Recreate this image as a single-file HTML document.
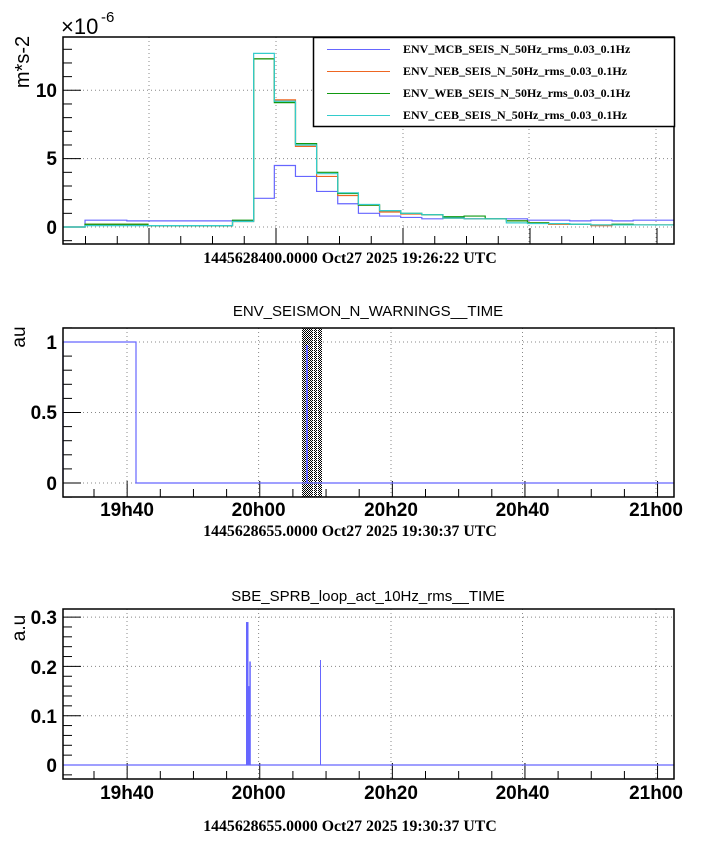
<!DOCTYPE html>
<html><head><meta charset="utf-8"><style>
body{margin:0;background:#fff}
svg{display:block}
.t{font-family:"Liberation Sans",sans-serif;font-weight:bold;font-size:19px}
.d{font-family:"Liberation Serif",serif;font-weight:bold;font-size:15.8px}
.ti{font-family:"Liberation Sans",sans-serif;font-size:15px}
.lg{font-family:"Liberation Serif",serif;font-weight:bold;font-size:12px}
</style></head><body>
<svg id="s" width="704" height="846" xmlns="http://www.w3.org/2000/svg">
<defs><pattern id="h" width="2" height="2" patternUnits="userSpaceOnUse"><rect width="1" height="1" fill="#000"/><rect x="1" y="1" width="1" height="1" fill="#000"/></pattern></defs>
<g id="g"></g>
<text x="61" y="34" style="font-family:'Liberation Sans',sans-serif;font-size:22px">×10</text>
<text x="101" y="22" style="font-family:'Liberation Sans',sans-serif;font-size:15px">-6</text>
<text transform="translate(29,62) rotate(-90)" class="ti" style="font-size:20px" text-anchor="middle">m*s-2</text>
<text x="57" y="97" class="t" text-anchor="end">10</text>
<text x="57" y="165" class="t" text-anchor="end">5</text>
<text x="57" y="234" class="t" text-anchor="end">0</text>
<text x="350" y="263" class="d" text-anchor="middle">1445628400.0000 Oct27 2025 19:26:22 UTC</text>
<rect x="313.5" y="37.5" width="361" height="89" fill="#fff" stroke="#000" stroke-width="1.5"/>
<line x1="327" y1="49.5" x2="390" y2="49.5" stroke="#6666ff"/>
<line x1="327" y1="71.5" x2="390" y2="71.5" stroke="#ee6622"/>
<line x1="327" y1="93.5" x2="390" y2="93.5" stroke="#119911"/>
<line x1="327" y1="115.5" x2="390" y2="115.5" stroke="#33cccc"/>
<text x="403" y="53" class="lg">ENV_MCB_SEIS_N_50Hz_rms_0.03_0.1Hz</text>
<text x="403" y="75" class="lg">ENV_NEB_SEIS_N_50Hz_rms_0.03_0.1Hz</text>
<text x="403" y="97" class="lg">ENV_WEB_SEIS_N_50Hz_rms_0.03_0.1Hz</text>
<text x="403" y="119" class="lg">ENV_CEB_SEIS_N_50Hz_rms_0.03_0.1Hz</text>
<text x="368" y="316" class="ti" text-anchor="middle">ENV_SEISMON_N_WARNINGS__TIME</text>
<text transform="translate(25,337) rotate(-90)" class="ti" style="font-size:19px" text-anchor="middle">au</text>
<text x="57" y="349" class="t" text-anchor="end">1</text>
<text x="57" y="419" class="t" text-anchor="end">0.5</text>
<text x="57" y="490" class="t" text-anchor="end">0</text>
<text x="350" y="536" class="d" text-anchor="middle">1445628655.0000 Oct27 2025 19:30:37 UTC</text>
<text x="368" y="601" class="ti" text-anchor="middle">SBE_SPRB_loop_act_10Hz_rms__TIME</text>
<text transform="translate(25,628) rotate(-90)" class="ti" style="font-size:19px" text-anchor="middle">a.u</text>
<text x="57" y="624" class="t" text-anchor="end">0.3</text>
<text x="57" y="674" class="t" text-anchor="end">0.2</text>
<text x="57" y="723" class="t" text-anchor="end">0.1</text>
<text x="57" y="772" class="t" text-anchor="end">0</text>
<text x="350" y="831" class="d" text-anchor="middle">1445628655.0000 Oct27 2025 19:30:37 UTC</text>
</svg>
<script>
var g=document.getElementById('g'),o='';
function L(a,b,c,d,s,w,da){o+='<line x1="'+a+'" y1="'+b+'" x2="'+c+'" y2="'+d+'" stroke="'+s+'" stroke-width="'+(w||1)+'"'+(da?' stroke-dasharray="'+da+'"':'')+'/>';}
function P(d,s){o+='<path d="'+d+'" fill="none" stroke="'+s+'" stroke-width="1.2"/>';}
var X0=63,X1=674;
var T1=37,B1=244;
function Y1(v){return 227-v*13.67}
[149,276,403,529,656].forEach(function(x){L(x,T1,x,B1,'#888',1,'1,3')});
[0,5,10].forEach(function(v){L(X0,Y1(v),X1,Y1(v),'#888',1,'1,3')});
for(var v=-1;v<=13;v++){L(X0,Y1(v),X0+(v%5==0?18:9),Y1(v),'#000');}
for(var x=149-127;x<X1;x+=127/4){if(x>X0){var mj=Math.abs((x-149)%127)<1;L(x,B1,x,B1-(mj?16:8),'#000')}}
function ZX(z){return 63+(z-141)/2.224}
var e=[190,237,283,330,377,424,471,518,565,611,658,705,752,798,845,892,939,986,1033,1080,1127,1174,1221,1268,1315,1362,1409,1456,1500];
function hist(vals,col){var d='M'+X0+','+Y1(0)+' H'+ZX(190);for(var i=0;i<vals.length;i++){d+=' V'+Y1(vals[i])+' H'+ZX(e[i+1]);}P(d,col);}
var blue=[.5,.5,.45,.45,.45,.45,.45,.45,2.1,4.5,3.7,2.6,1.7,1.0,.8,.7,.6,.7,.6,.6,.6,.5,.5,.45,.5,.45,.5,.5];
var ora=[.2,.2,.2,.1,.1,.1,.1,.4,12.3,9.3,5.9,3.7,2.3,1.6,1.1,.95,.9,.65,.6,.6,.45,.3,.2,.2,.1,.15,.15,.15];
var grn=[.2,.2,.2,.1,.1,.1,.1,.5,12.3,9.1,6.1,4.0,2.45,1.6,1.2,1.0,.9,.75,.8,.6,.45,.3,.25,.2,.15,.2,.15,.15];
var cy=[.1,.1,.1,.1,.1,.1,.1,.4,12.7,9.2,6.0,3.9,2.5,1.65,1.2,1.0,.9,.65,.6,.6,.3,.25,.25,.2,.15,.15,.15,.15];
hist(blue,'#6666ff');hist(ora,'#ee6622');hist(grn,'#119911');hist(cy,'#33cccc');
o+='<rect x="63" y="37" width="611" height="207" fill="none" stroke="#000" stroke-width="1.5"/>';
function taxis(T,B,dy){[127,258.6,391,522.5,656].forEach(function(x){L(x,T,x,B,'#888',1,'1,3')});
for(var x=94;x<X1;x+=33.15){var mj=Math.abs((x-127)%132.6)<2||Math.abs((x-127)%132.6-132.6)<2;L(x,B,x,B-(mj?16:8),'#000')}
var lb=['19h40','20h00','20h20','20h40','21h00'];[127,258.6,391,522.5,656].forEach(function(x,i){o+='<text x="'+x+'" y="'+(B+dy)+'" class="t" text-anchor="middle">'+lb[i]+'</text>'});}
var T2=328,B2=497;function Y2(v){return 483-v*141}
taxis(T2,B2,19);
[0,.5,1].forEach(function(v){L(X0,Y2(v),X1,Y2(v),'#888',1,'1,3')});
for(var v=-0.1;v<=1.11;v+=0.1){var mj=Math.abs(v*2-Math.round(v*2))<.01;L(X0,Y2(v),X0+(mj?18:9),Y2(v),'#000')}
o+='<rect x="302" y="328" width="20" height="169" fill="url(#h)"/>';
L(313.5,328,313.5,497,'#fff',1);L(317.5,328,317.5,497,'#fff',1);
L(307,345,307,483,'#6666ff',2);
P('M'+X0+','+Y2(0.02)+' V'+Y2(1)+' H136 V'+Y2(0)+' H'+X1,'#6666ff');
o+='<rect x="63" y="328" width="611" height="169" fill="none" stroke="#000" stroke-width="1.5"/>';
var T3=609,B3=779;function Y3(v){return 765-v*493}
taxis(T3,B3,20);
[0,.1,.2,.3].forEach(function(v){L(X0,Y3(v),X1,Y3(v),'#888',1,'1,3')});
for(var v=-0.02;v<=0.31;v+=0.02){var mj=Math.abs(v*10-Math.round(v*10))<.01;L(X0,Y3(v),X0+(mj?18:9),Y3(v),'#000')}
P('M'+X0+','+Y3(0)+' H'+X1,'#6666ff');
o+='<rect x="246" y="'+Y3(0.29)+'" width="2.5" height="'+(Y3(0)-Y3(0.29))+'" fill="#6666ff"/>';
o+='<rect x="248.5" y="'+Y3(0.16)+'" width="1" height="'+(Y3(0)-Y3(0.16))+'" fill="#6666ff"/>';
o+='<rect x="249.3" y="'+Y3(0.21)+'" width="1.5" height="'+(Y3(0)-Y3(0.21))+'" fill="#6666ff"/>';
L(320.5,Y3(0.213),320.5,Y3(0),'#6666ff',1);
o+='<rect x="63" y="609" width="611" height="170" fill="none" stroke="#000" stroke-width="1.5"/>';
g.innerHTML=o;
</script>
</body></html>
